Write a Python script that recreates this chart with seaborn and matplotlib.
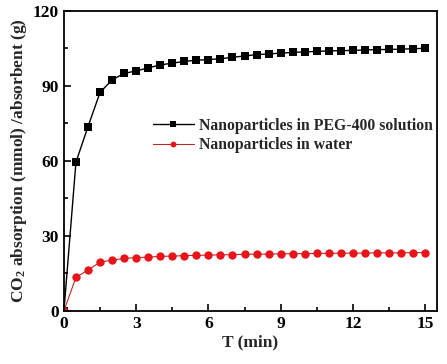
import matplotlib
matplotlib.use("Agg")
import matplotlib.pyplot as plt
import numpy as np
import pandas as pd
import seaborn as sns
from matplotlib.ticker import MultipleLocator

# time points (min)
t_min = [0, 0.5, 1, 1.5, 2, 2.5, 3, 3.5, 4, 4.5, 5, 5.5, 6, 6.5, 7, 7.5,
         8, 8.5, 9, 9.5, 10, 10.5, 11, 11.5, 12, 12.5, 13, 13.5, 14, 14.5, 15]

peg_vals = [0, 59.5, 73.7, 87.4, 92.4, 95.0, 96.0, 97.2, 98.4, 99.1, 99.8,
            100.3, 100.5, 100.9, 101.4, 102.0, 102.5, 102.8, 103.1, 103.4,
            103.6, 103.8, 104.0, 104.1, 104.2, 104.4, 104.5, 104.6, 104.7,
            104.9, 105.0]

water_vals = [0, 13.4, 16.3, 19.5, 20.3, 21.0, 21.3, 21.5, 21.8, 21.9, 22.1,
              22.2, 22.3, 22.4, 22.5, 22.6, 22.7, 22.7, 22.8, 22.9, 22.9,
              23.0, 23.0, 23.1, 23.1, 23.1, 23.2, 23.2, 23.2, 23.3, 23.3]

labels = ["Nanoparticles in PEG-400 solution", "Nanoparticles in water"]

df = pd.concat([
    pd.DataFrame({"t": t_min, "v": peg_vals, "s": labels[0]}),
    pd.DataFrame({"t": t_min, "v": water_vals, "s": labels[1]}),
])

sns.set_theme(style="ticks")
plt.rcParams.update({
    "font.family": ["Liberation Serif", "DejaVu Serif"],
    "font.weight": "bold",
    "mathtext.fontset": "custom",
    "mathtext.bf": "Liberation Serif:bold",
    "mathtext.rm": "Liberation Serif:bold",
    "mathtext.default": "bf",
})

fig = plt.figure(figsize=(4.47, 3.64), dpi=100)
ax = fig.add_axes([0.143, 0.146, 0.835, 0.824])

sns.lineplot(data=df[df.s == labels[0]], x="t", y="v", ax=ax, color="black",
             marker="s", markersize=5.3, markeredgewidth=0, linewidth=1.0,
             label=labels[0])
sns.lineplot(data=df[df.s == labels[1]], x="t", y="v", ax=ax, color="#b52a2a",
             marker="o", markersize=6.0, markerfacecolor="#e8141a",
             markeredgewidth=0, linewidth=0.8, label=labels[1])

ax.set_xlim(0, 15.5)
ax.set_ylim(0, 120)
ax.xaxis.set_major_locator(MultipleLocator(3))
ax.xaxis.set_minor_locator(MultipleLocator(1.5))
ax.yaxis.set_major_locator(MultipleLocator(30))
ax.yaxis.set_minor_locator(MultipleLocator(15))
ax.tick_params(which="both", direction="in", top=False, right=False,
               colors="black", labelsize=12.5, width=1.2)
ax.tick_params(which="major", length=5)
ax.tick_params(which="minor", length=3)
for lab in ax.get_xticklabels() + ax.get_yticklabels():
    lab.set_fontweight("bold")
for sp in ax.spines.values():
    sp.set_linewidth(1.3)
    sp.set_color("black")

ax.set_xlabel("T (min)", fontsize=12.5, fontweight="bold", labelpad=2)
ax.set_ylabel("CO$_2$ absorption (mmol) /absorbent (g)", fontsize=12.5,
              fontweight="bold", labelpad=3)

ax.legend(loc="upper left", bbox_to_anchor=(0.222, 0.664), frameon=False,
          prop={"family": "Liberation Serif", "weight": "bold", "size": 11.3},
          handlelength=2.6, handletextpad=0.3, labelspacing=0.2,
          borderaxespad=0, markerscale=0.7)

fig.savefig("out.png", dpi=100, facecolor="white")
plt.close(fig)
